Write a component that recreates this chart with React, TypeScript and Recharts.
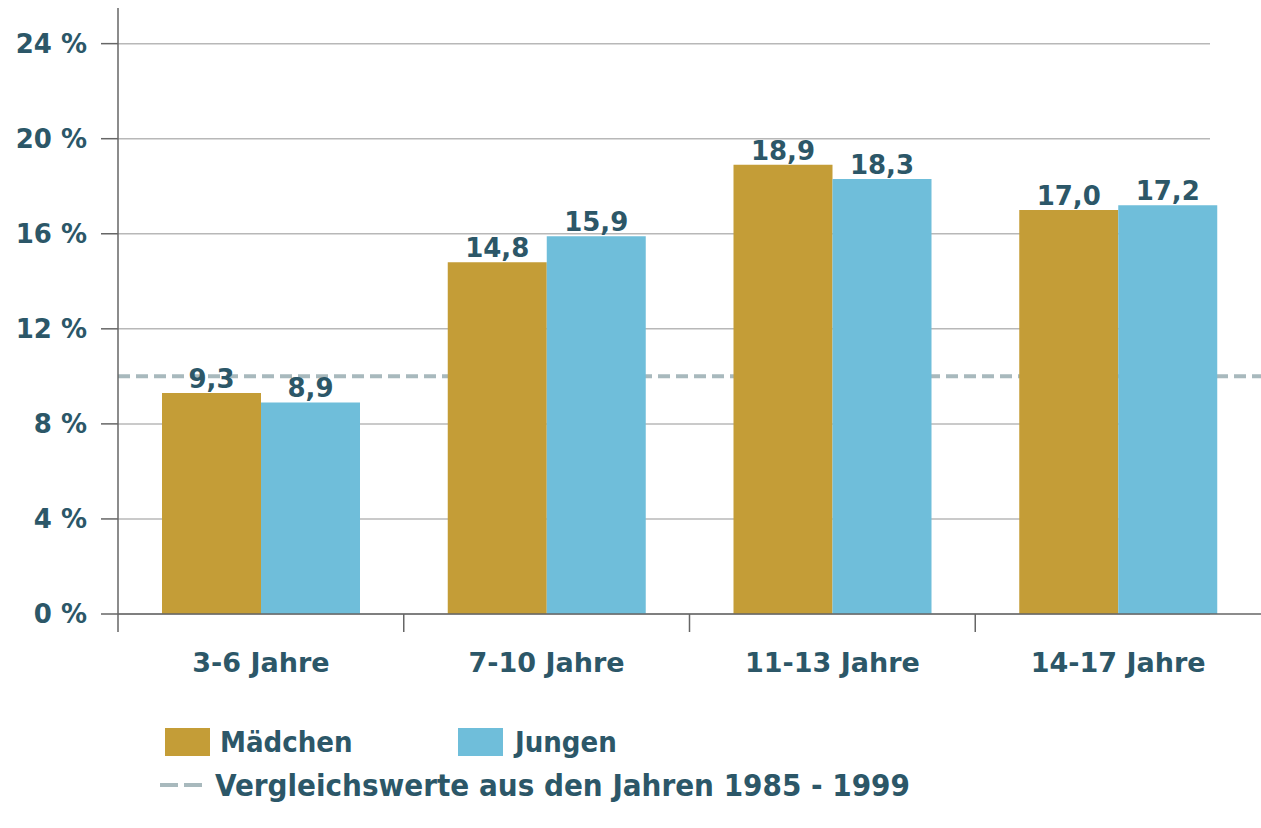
import { BarChart, Bar, XAxis, YAxis, CartesianGrid, ReferenceLine, LabelList } from "recharts";

const categories = ["3-6 Jahre", "7-10 Jahre", "11-13 Jahre", "14-17 Jahre"];
const maedchen = [9.3, 14.8, 18.9, 17.0];
const jungen = [8.9, 15.9, 18.3, 17.2];
const yTicks = [0, 4, 8, 12, 16, 20, 24];
const vergleichswert = 10;

const data = categories.map((name, i) => ({ name, maedchen: maedchen[i], jungen: jungen[i] }));

const GOLD = "#C49D37";
const BLUE = "#6FBEDA";
const TEXT = "#2C5768";
const AXIS = "#666";
const DASH = "#A8B9BD";
const FONT = "'DejaVu Sans', sans-serif";
const FONT_NARROW = "'DejaVu Sans Condensed', 'DejaVu Sans', sans-serif";

const fmt = (v: number) => v.toFixed(1).replace(".", ",");

function CategoryTick(props: any) {
  const { x, y, payload, width, visibleTicksCount } = props;
  const band = width && visibleTicksCount ? width / visibleTicksCount : 285.75;
  return (
    <g>
      <line x1={x - band / 2} x2={x - band / 2} y1={y} y2={y + 18} stroke={AXIS} strokeWidth={1.5} />
      <text x={x} y={y + 58} textAnchor="middle" fill={TEXT} fontFamily={FONT} fontWeight="bold" fontSize={27}>
        {payload.value}
      </text>
    </g>
  );
}

// grid lines stop short of the right edge, and none at the top of the axis
function GridLine(p: any) {
  if (typeof p.y === "number" && Math.abs(p.y1 - p.y) < 1) return <g key={p.key ?? p.index} />;
  return <line key={p.key ?? p.index} x1={p.x1} y1={p.y1} x2={p.x2 - 51} y2={p.y2} stroke="#B8B8B8" strokeWidth={1.5} />;
}

const legendText = {
  position: "absolute" as const,
  fontFamily: FONT_NARROW,
  fontStretch: "condensed",
  fontWeight: "bold" as const,
  color: TEXT,
  whiteSpace: "nowrap" as const,
};

export default function App() {
  return (
    <div style={{ position: "absolute", left: 0, top: 0, width: 1261, height: 828, background: "#fff", overflow: "hidden" }}>
      <BarChart
        width={1261}
        height={828}
        data={data}
        margin={{ top: 8, right: 0, left: 0, bottom: 144 }}
        barCategoryGap={44}
        barGap={0}
      >
        <CartesianGrid vertical={false} horizontal={GridLine} />
        <ReferenceLine
          y={vergleichswert}
          stroke={DASH}
          strokeWidth={4}
          strokeDasharray="12 6"
          zIndex={-50}
        />
        <XAxis
          dataKey="name"
          height={70}
          interval={0}
          tickSize={0}
          tickMargin={0}
          tickLine={false}
          axisLine={{ stroke: AXIS, strokeWidth: 1.5 }}
          tick={<CategoryTick />}
        />
        <YAxis
          width={118}
          domain={[0, 25.5]}
          ticks={yTicks}
          interval={0}
          tickSize={17}
          tickMargin={14}
          axisLine={{ stroke: AXIS, strokeWidth: 1.5 }}
          tickLine={{ stroke: AXIS, strokeWidth: 1.5 }}
          tick={{ fill: TEXT, fontSize: 26, fontFamily: FONT, fontWeight: "bold" }}
          tickFormatter={(v) => `${v} %`}
        />
        <Bar dataKey="maedchen" name="Mädchen" fill={GOLD} isAnimationActive={false}>
          <LabelList
            dataKey="maedchen"
            position="top"
            offset={5}
            formatter={(v: any) => fmt(Number(v))}
            fill={TEXT}
            fontSize={26}
            fontFamily={FONT}
            fontWeight="bold"
          />
        </Bar>
        <Bar dataKey="jungen" name="Jungen" fill={BLUE} isAnimationActive={false}>
          <LabelList
            dataKey="jungen"
            position="top"
            offset={5}
            formatter={(v: any) => fmt(Number(v))}
            fill={TEXT}
            fontSize={26}
            fontFamily={FONT}
            fontWeight="bold"
          />
        </Bar>
      </BarChart>

      <div style={{ position: "absolute", left: 165, top: 728, width: 45, height: 28, background: GOLD }} />
      <div style={{ ...legendText, left: 220, top: 726, lineHeight: "32px", fontSize: 29 }}>Mädchen</div>
      <div style={{ position: "absolute", left: 458, top: 728, width: 45, height: 28, background: BLUE }} />
      <div style={{ ...legendText, left: 515, top: 726, lineHeight: "32px", fontSize: 29 }}>Jungen</div>
      <svg style={{ position: "absolute", left: 160, top: 780 }} width={46} height={10}>
        <line x1={0} x2={46} y1={5} y2={5} stroke={DASH} strokeWidth={4} strokeDasharray="18 6" />
      </svg>
      <div style={{ ...legendText, left: 215, top: 767, lineHeight: "36px", fontSize: 31 }}>
        Vergleichswerte aus den Jahren 1985 - 1999
      </div>
    </div>
  );
}
